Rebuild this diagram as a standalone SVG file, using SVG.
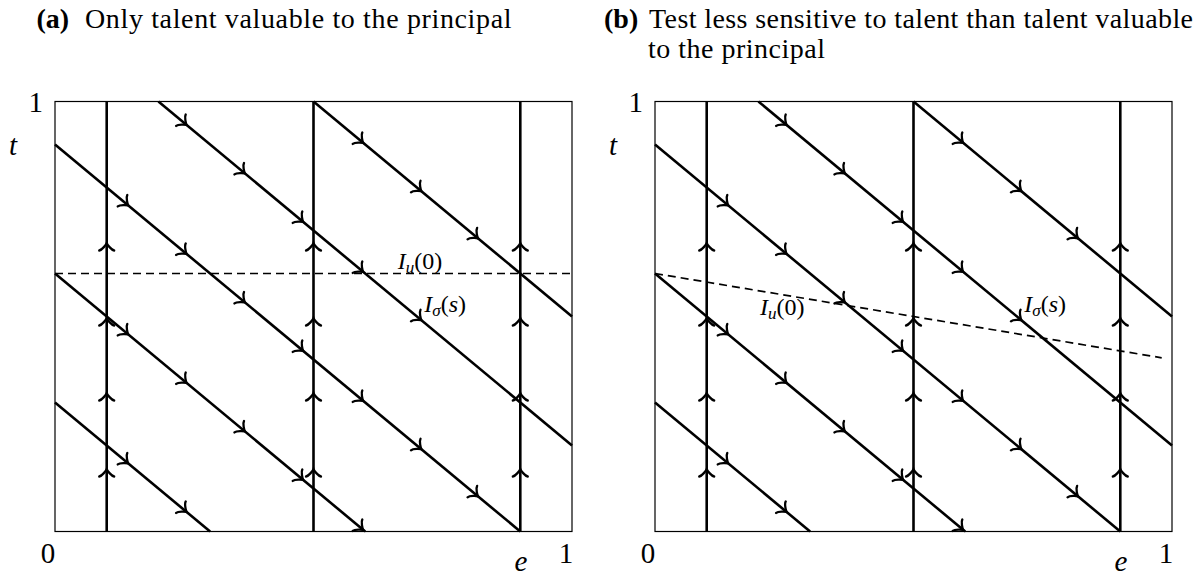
<svg xmlns="http://www.w3.org/2000/svg" xmlns:xlink="http://www.w3.org/1999/xlink" width="1202" height="578" viewBox="0 0 1202 578">
<style>
  .frame { fill: none; stroke: #000; stroke-width: 1.2; }
  .curve { fill: none; stroke: #000; stroke-width: 2.6; stroke-linecap: butt; }
  .dash { fill: none; stroke: #000; stroke-width: 1.7; stroke-dasharray: 8 5; }
  .ah { fill: none; stroke: #000; stroke-width: 2.3; stroke-linecap: round; }
  .title { font-family: "Liberation Serif", "DejaVu Serif", serif; font-size: 28px; fill: #000; }
  .bold { font-weight: bold; }
  .ax { font-family: "Liberation Serif", "DejaVu Serif", serif; font-size: 29px; fill: #000; }
  .it { font-style: italic; }
  .lab { font-family: "Liberation Serif", "DejaVu Serif", serif; font-size: 24px; fill: #000; }
  .sub { font-size: 17px; font-style: italic; }
</style>
<defs>
  <path id="ah" class="ah" d="M-7.5,7.5 C-7,4.6 -1.5,0.5 0,0 C-1.5,-0.5 -7,-4.6 -7.5,-7.5"/>
  <g id="field">
    <!-- flow lines -->
    <g class="curve">
      <line x1="106.7" y1="101.5" x2="106.7" y2="531.5"/>
      <line x1="313.5" y1="101.5" x2="313.5" y2="531.5"/>
      <line x1="520.3" y1="101.5" x2="520.3" y2="531.5"/>
      <line x1="55" y1="402.5" x2="210.1" y2="531.5"/>
      <line x1="55" y1="273.5" x2="365.2" y2="531.5"/>
      <line x1="55" y1="144.5" x2="520.3" y2="531.5"/>
      <line x1="158.4" y1="101.5" x2="572" y2="445.5"/>
      <line x1="313.5" y1="101.5" x2="572" y2="316.5"/>
    </g>
    <!-- vertical arrowheads -->
    <use xlink:href="#ah" href="#ah" transform="translate(106.7,243) rotate(-90)"/>
    <use xlink:href="#ah" href="#ah" transform="translate(106.7,318) rotate(-90)"/>
    <use xlink:href="#ah" href="#ah" transform="translate(106.7,393) rotate(-90)"/>
    <use xlink:href="#ah" href="#ah" transform="translate(106.7,469) rotate(-90)"/>
    <use xlink:href="#ah" href="#ah" transform="translate(313.5,243) rotate(-90)"/>
    <use xlink:href="#ah" href="#ah" transform="translate(313.5,318) rotate(-90)"/>
    <use xlink:href="#ah" href="#ah" transform="translate(313.5,393) rotate(-90)"/>
    <use xlink:href="#ah" href="#ah" transform="translate(313.5,469) rotate(-90)"/>
    <use xlink:href="#ah" href="#ah" transform="translate(520.3,243) rotate(-90)"/>
    <use xlink:href="#ah" href="#ah" transform="translate(520.3,318) rotate(-90)"/>
    <use xlink:href="#ah" href="#ah" transform="translate(520.3,393) rotate(-90)"/>
    <use xlink:href="#ah" href="#ah" transform="translate(520.3,469) rotate(-90)"/>
    <!-- diagonal arrowheads -->
    <use xlink:href="#ah" href="#ah" transform="translate(363.3,143.0) rotate(39.75)"/>
    <use xlink:href="#ah" href="#ah" transform="translate(421.5,191.3) rotate(39.75)"/>
    <use xlink:href="#ah" href="#ah" transform="translate(478.1,238.4) rotate(39.75)"/>
    <use xlink:href="#ah" href="#ah" transform="translate(186.7,125.0) rotate(39.75)"/>
    <use xlink:href="#ah" href="#ah" transform="translate(245.0,173.5) rotate(39.75)"/>
    <use xlink:href="#ah" href="#ah" transform="translate(303.3,222.0) rotate(39.75)"/>
    <use xlink:href="#ah" href="#ah" transform="translate(363.3,272.0) rotate(39.75)"/>
    <use xlink:href="#ah" href="#ah" transform="translate(421.5,320.3) rotate(39.75)"/>
    <use xlink:href="#ah" href="#ah" transform="translate(128.3,205.5) rotate(39.75)"/>
    <use xlink:href="#ah" href="#ah" transform="translate(186.7,254.0) rotate(39.75)"/>
    <use xlink:href="#ah" href="#ah" transform="translate(245.0,302.5) rotate(39.75)"/>
    <use xlink:href="#ah" href="#ah" transform="translate(303.3,351.0) rotate(39.75)"/>
    <use xlink:href="#ah" href="#ah" transform="translate(363.3,401.0) rotate(39.75)"/>
    <use xlink:href="#ah" href="#ah" transform="translate(421.5,449.3) rotate(39.75)"/>
    <use xlink:href="#ah" href="#ah" transform="translate(478.1,496.4) rotate(39.75)"/>
    <use xlink:href="#ah" href="#ah" transform="translate(128.3,334.5) rotate(39.75)"/>
    <use xlink:href="#ah" href="#ah" transform="translate(186.7,383.0) rotate(39.75)"/>
    <use xlink:href="#ah" href="#ah" transform="translate(245.0,431.5) rotate(39.75)"/>
    <use xlink:href="#ah" href="#ah" transform="translate(303.3,480.0) rotate(39.75)"/>
    <use xlink:href="#ah" href="#ah" transform="translate(363.3,530.0) rotate(39.75)"/>
    <use xlink:href="#ah" href="#ah" transform="translate(128.3,463.5) rotate(39.75)"/>
    <use xlink:href="#ah" href="#ah" transform="translate(186.7,512.0) rotate(39.75)"/>
    <!-- frame -->
    <rect class="frame" x="55" y="101.5" width="517" height="430"/>
    <!-- axis labels -->
    <text class="ax" x="43" y="112" text-anchor="end">1</text>
    <text class="ax it" x="9" y="155">t</text>
    <text class="ax" x="48" y="563" text-anchor="middle">0</text>
    <text class="ax it" x="521" y="571" text-anchor="middle">e</text>
    <text class="ax" x="566" y="563" text-anchor="middle">1</text>
    <text class="lab it" x="424.3" y="311.7">I<tspan class="sub" dy="4">σ</tspan><tspan dy="-4" font-style="normal">(</tspan>s<tspan font-style="normal">)</tspan></text>
  </g>
</defs>

<g id="title-a">
  <text class="title bold" x="36.5" y="27.5">(a)</text>
  <text class="title" x="85" y="27.5" textLength="426.5" lengthAdjust="spacing">Only talent valuable to the principal</text>
</g>
<g id="title-b">
  <text class="title bold" x="604" y="27.5">(b)</text>
  <text class="title" x="649" y="27.5" textLength="544" lengthAdjust="spacing">Test less sensitive to talent than talent valuable</text>
  <text class="title" x="648" y="57.5" textLength="177" lengthAdjust="spacing">to the principal</text>
</g>

<g id="panel-a">
  <use xlink:href="#field" href="#field"/>
  <g id="connectors-a">
    <line class="dash" x1="55" y1="273.5" x2="572" y2="273.5"/>
  </g>
  <text class="lab it" x="397.7" y="268.5">I<tspan class="sub" dy="4">u</tspan><tspan dy="-4" font-style="normal">(0)</tspan></text>
</g>

<g id="panel-b" transform="translate(600,0)">
  <use xlink:href="#field" href="#field"/>
  <g id="connectors-b">
    <line class="dash" x1="55" y1="273.5" x2="561.7" y2="357.8"/>
  </g>
  <text class="lab it" x="160" y="315">I<tspan class="sub" dy="4">u</tspan><tspan dy="-4" font-style="normal">(0)</tspan></text>
</g>
</svg>
